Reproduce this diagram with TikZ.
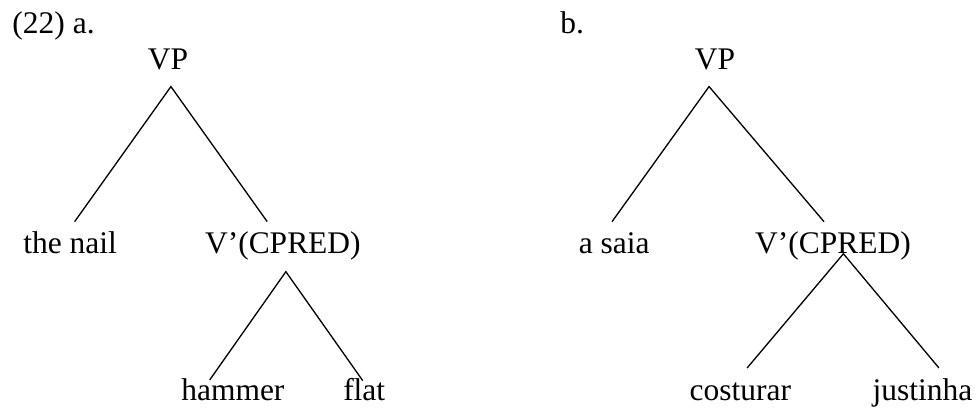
\documentclass[tikz,border=0pt]{standalone}
\usepackage{fontspec}
\setmainfont{Liberation Serif}
\usetikzlibrary{positioning}
\tikzset{
  word/.style={anchor=base, inner sep=0pt, font=\fontsize{12pt}{14pt}\selectfont},
  branch/.style={black, line width=0.5pt}
}

\begin{document}
\begin{tikzpicture}
 \useasboundingbox (0, 0) rectangle (13.09, 5.49);
 % example labels
 \node[word, anchor=base west] (labA) at (0.16, 5.04) {(22) a.};
 \node[word, anchor=base west] (labB) at (7.50, 5.04) {b.};
 % tree a
 \node[word] (vpA) at (2.25, 4.56) {VP};
 \node[word] (nailA) at (0.94, 2.10) {the nail};
 \node[word] (cpredA) at (3.79, 2.10) {V'(CPRED)};
 \node[word] (hammerA) at (3.12, 0.12) {hammer};
 \node[word] (flatA) at (4.88, 0.12) {flat};
 \coordinate (topA) at (2.29, 4.33);
 \coordinate (nailEnd) at (1.00, 2.52);
 \coordinate (cpredEndA) at (3.58, 2.52);
 \coordinate (midA) at (3.83, 1.85);
 \coordinate (hammerEnd) at (2.81, 0.40);
 \coordinate (flatEnd) at (4.86, 0.39);
 \draw[branch] (nailEnd) -- (topA) -- (cpredEndA);
 \draw[branch] (hammerEnd) -- (midA) -- (flatEnd);
 % tree b
 \node[word] (vpB) at (9.58, 4.56) {VP};
 \node[word] (saiaB) at (8.23, 2.10) {a saia};
 \node[word] (cpredB) at (11.16, 2.10) {V'(CPRED)};
 \node[word] (costurarB) at (9.92, 0.12) {costurar};
 \node[word] (justinhaB) at (12.36, 0.12) {justinha};
 \coordinate (topB) at (9.50, 4.33);
 \coordinate (saiaEnd) at (8.20, 2.52);
 \coordinate (cpredEndB) at (11.04, 2.52);
 \coordinate (midB) at (11.30, 2.09);
 \coordinate (costurarEnd) at (10.01, 0.56);
 \coordinate (justinhaEnd) at (12.58, 0.56);
 \draw[branch] (saiaEnd) -- (topB) -- (cpredEndB);
 \draw[branch] (costurarEnd) -- (midB) -- (justinhaEnd);
\end{tikzpicture}
\end{document}
